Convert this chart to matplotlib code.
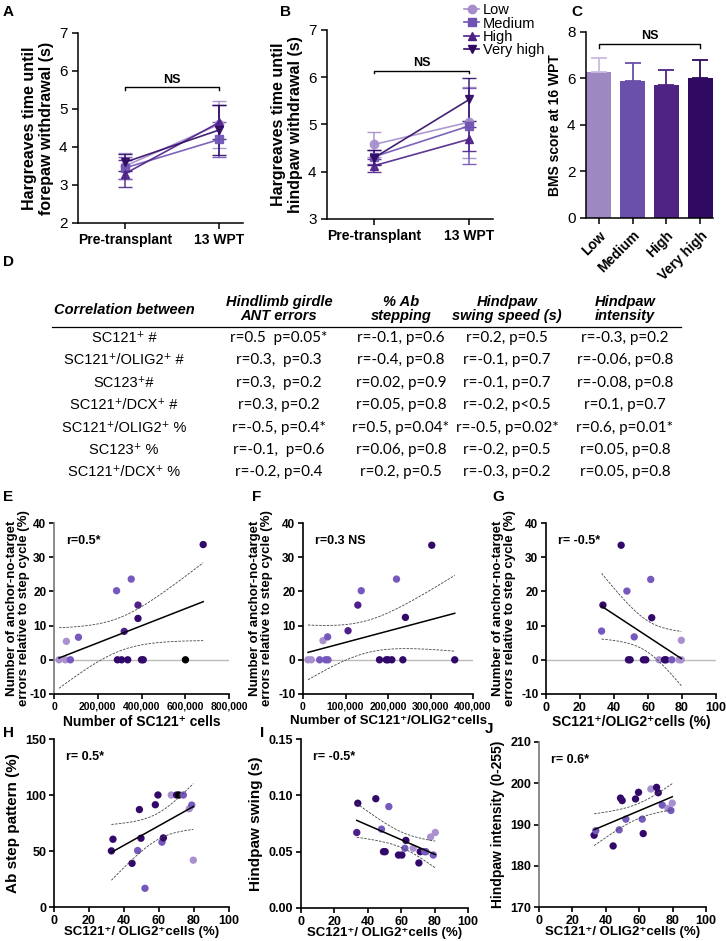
import numpy as np
import matplotlib
matplotlib.use('Agg')
import matplotlib.pyplot as plt
from matplotlib.lines import Line2D

plt.rcParams['font.family'] = ['Liberation Sans', 'DejaVu Sans']

W, H = 726, 941

# ---- data ----
groups = ['Low', 'Medium', 'High', 'Very high']
group_colors = ['#a58ecb', '#6f53b3', '#4c2188', '#2e0a62']
markers = ['o', 's', '^', 'v']
time_labels = ['Pre-transplant', '13 WPT']

# A: Hargreaves forepaw (mean, sem) per group, [pre, 13 WPT]
fore_mean = [[3.50, 4.60], [3.45, 4.20], [3.30, 4.65], [3.60, 4.45]]
fore_err = [[0.35, 0.62], [0.30, 0.45], [0.35, 0.45], [0.22, 0.65]]
# B: Hargreaves hindpaw
hind_mean = [[4.58, 5.05], [4.32, 4.97], [4.13, 4.69], [4.30, 5.53]]
hind_err = [[0.26, 0.75], [0.15, 0.80], [0.13, 0.25], [0.15, 0.45]]
# C: BMS score at 16 WPT
bms = [6.3, 5.9, 5.7, 6.0]
bms_err = [0.6, 0.75, 0.65, 0.8]
bar_colors = ['#9e88c1', '#6a4fab', '#4f2383', '#2f0a60']

# D: correlation table
tbl_header = ['Correlation between', 'Hindlimb girdle\nANT errors', '% Ab\nstepping',
              'Hindpaw\nswing speed (s)', 'Hindpaw\nintensity']
tbl_rows = ['SC121⁺ #', 'SC121⁺/OLIG2⁺ #', 'SC123⁺#', 'SC121⁺/DCX⁺ #',
            'SC121⁺/OLIG2⁺ %', 'SC123⁺ %', 'SC121⁺/DCX⁺ %']
col_ant = ['r=0.5  p=0.05*', 'r=0.3,  p=0.3', 'r=0.3,  p=0.2', 'r=0.3, p=0.2',
           'r=-0.5, p=0.4*', 'r=-0.1,  p=0.6', 'r=-0.2, p=0.4']
col_ab = ['r=-0.1, p=0.6', 'r=-0.4, p=0.8', 'r=0.02, p=0.9', 'r=0.05, p=0.8',
          'r=0.5, p=0.04*', 'r=0.06, p=0.8', 'r=0.2, p=0.5']
col_swing = ['r=0.2, p=0.5', 'r=-0.1, p=0.7', 'r=-0.1, p=0.7', 'r=-0.2, p<0.5',
             'r=-0.5, p=0.02*', 'r=-0.2, p=0.5', 'r=-0.3, p=0.2']
col_int = ['r=-0.3, p=0.2', 'r=-0.06, p=0.8', 'r=-0.08, p=0.8', 'r=0.1, p=0.7',
           'r=0.6, p=0.01*', 'r=0.05, p=0.8', 'r=0.05, p=0.8']

pt_colors = {'L': '#a991d0', 'M': '#7659bd', 'H': '#4f1f8c', 'V': '#32096a', 'K': '#000000'}

# E: errors vs number of SC121+ cells
e_x = [23000, 52000, 75000, 290000, 309000, 337000, 400000, 408000, 601000,
       56600, 111700, 286000, 353000, 384000, 384000, 321000, 682000]
e_y = [0, 0, 0, 0, 0, 0, 0, 0, 0, 5.4, 6.6, 20.2, 23.6, 16.0, 12.1, 8.3, 33.7]
e_c = ['L', 'L', 'M', 'V', 'V', 'V', 'V', 'V', 'K', 'L', 'M', 'M', 'M', 'H', 'V', 'H', 'V']
# F: errors vs number of SC121+/OLIG2+ cells
f_x = [11800, 19600, 39200, 53300, 58800, 180000, 196000, 200000, 209000, 235000, 357000,
       47000, 58000, 106000, 129000, 137000, 220000, 241000, 303000]
f_y = [0] * 11 + [5.6, 6.7, 8.5, 16.0, 20.2, 23.6, 12.4, 33.5]
f_c = ['L', 'L', 'M', 'M', 'M', 'V', 'V', 'V', 'V', 'V', 'V',
       'L', 'M', 'H', 'H', 'M', 'M', 'V', 'V']
# G: errors vs % SC121+/OLIG2+
g_x = [48.5, 49.5, 57.3, 58.7, 66.5, 69.7, 70.6, 74.0, 78.3, 79.5,
       44.2, 33.5, 32.7, 47.6, 61.6, 62.2, 51.9, 79.6]
g_y = [0] * 10 + [33.5, 16.0, 8.4, 20.1, 23.5, 12.3, 6.7, 5.7]
g_c = ['V', 'V', 'V', 'V', 'L', 'V', 'V', 'M', 'L', 'L', 'V', 'V', 'M', 'M', 'M', 'V', 'M', 'L']
# H: Ab step pattern
h_x = [32.8, 33.7, 44.6, 47.8, 48.8, 49.7, 52.0, 57.9, 59.4, 61.7, 62.5, 67.0, 70.1, 71.4,
       73.9, 77.3, 78.7, 79.6]
h_y = [50.1, 60.5, 39.0, 50.4, 87.0, 61.4, 16.7, 91.3, 100, 57.9, 61.7, 100, 100, 100,
       100, 87.7, 91.0, 41.8]
h_c = ['V', 'V', 'V', 'M', 'V', 'V', 'M', 'V', 'V', 'M', 'V', 'L', 'V', 'K', 'M', 'L', 'M', 'L']
# I: Hindpaw swing
i_x = [33.4, 34.0, 44.8, 48.2, 49.4, 50.4, 52.6, 58.4, 60.4, 62.8, 62.2, 67.2, 71.4, 70.6,
       74.0, 74.8, 77.6, 80.4, 79.2]
i_y = [0.067, 0.093, 0.097, 0.070, 0.050, 0.050, 0.090, 0.047, 0.047, 0.060, 0.053, 0.053,
       0.050, 0.040, 0.050, 0.050, 0.063, 0.067, 0.047]
i_c = ['H', 'V', 'V', 'M', 'V', 'V', 'M', 'V', 'V', 'V', 'M', 'L', 'V', 'V', 'M', 'M', 'L', 'L', 'M']
# J: Hindpaw intensity
j_x = [33.0, 34.0, 44.4, 48.0, 48.8, 49.8, 52.0, 57.8, 59.6, 61.8, 62.4, 67.0, 70.4, 71.4,
       73.8, 77.2, 79.0, 79.8]
j_y = [187.4, 188.5, 184.8, 188.7, 196.4, 195.8, 191.3, 196.2, 197.8, 191.3, 187.8, 198.6,
       199.0, 197.7, 194.7, 193.9, 193.4, 195.2]
j_c = ['V', 'M', 'V', 'M', 'V', 'V', 'M', 'V', 'V', 'M', 'V', 'L', 'V', 'V', 'M', 'L', 'M', 'L']

fig = plt.figure(figsize=(W / 100, H / 100), dpi=100)


def ax_at(l, t, r, b):
    return fig.add_axes([l / W, 1 - b / H, (r - l) / W, (b - t) / H])


def ftext(x, y, s, **kw):
    fig.text(x / W, 1 - y / H, s, **kw)


def clean(ax, lw=1.1, tl=4):
    for s in ['top', 'right']:
        ax.spines[s].set_visible(False)
    for s in ['left', 'bottom']:
        ax.spines[s].set_linewidth(lw)
    ax.tick_params(width=lw, length=tl)


def bracket(ax, x0, x1, y, h, label):
    ax.plot([x0, x0, x1, x1], [y - h, y, y, y - h], color='k', lw=1)
    ax.text((x0 + x1) / 2, y + h * 0.6, label, ha='center', va='bottom',
            fontsize=9, fontweight='bold')


# ---- A and B ----
def line_panel(ax, means, errs, ylo, ylabel):
    xs = np.arange(2)
    for g in range(4):
        ax.errorbar(xs, means[g], yerr=errs[g], color=group_colors[g], marker=markers[g],
                    ms=6, lw=1.2, capsize=5, elinewidth=1.1, alpha=0.9)
    ax.set_xlim(-0.5, 1.25)
    ax.set_ylim(ylo, 7)
    ax.set_yticks(np.arange(ylo, 8))
    ax.set_xticks(xs)
    ax.set_xticklabels(time_labels, fontweight='bold', fontsize=10)
    ax.tick_params(axis='y', labelsize=11)
    ax.set_ylabel(ylabel, fontweight='bold', fontsize=11.5, linespacing=1.1)
    clean(ax)


axA = ax_at(78, 33, 243, 223)
line_panel(axA, fore_mean, fore_err, 2, 'Hargreaves time until\nforepaw withdrawal (s)')
bracket(axA, 0, 1, 5.57, 0.08, 'NS')

axB = ax_at(327, 30, 493, 219)
line_panel(axB, hind_mean, hind_err, 3, 'Hargreaves time until\nhindpaw withdrawal (s)')
bracket(axB, 0, 1, 6.14, 0.06, 'NS')

handles = [Line2D([], [], color=group_colors[g], marker=markers[g], ms=6, lw=1.2)
           for g in range(4)]
fig.legend(handles, groups, loc='upper left', bbox_to_anchor=(457 / W, 1 + 4 / H),
           frameon=False, handlelength=1.0, labelspacing=-0.05, handletextpad=0.3,
           fontsize=10.5, borderpad=0.0)

# ---- C ----
axC = ax_at(586, 32, 713, 218)
xc = np.arange(4)
axC.bar(xc, bms, width=0.74, color=bar_colors)
for k in range(4):
    ecol = '#c9bbe2' if k == 0 else bar_colors[k]
    axC.errorbar(xc[k], bms[k], yerr=[[0], [bms_err[k]]], color=ecol, capsize=6,
                 elinewidth=1.3, capthick=1.3, fmt='none')
axC.set_xlim(-0.37, 3.37)
axC.set_ylim(0, 8)
axC.set_yticks([0, 2, 4, 6, 8])
axC.set_xticks(xc)
axC.set_xticklabels(groups, rotation=45, ha='right', rotation_mode='anchor',
                    fontweight='bold', fontsize=10)
axC.tick_params(axis='y', labelsize=11)
axC.set_ylabel('BMS score at 16 WPT', fontweight='bold', fontsize=10)
clean(axC)
bracket(axC, 0, 3, 7.48, 0.15, 'NS')

# ---- D table ----
col_x = [124, 279, 401, 507, 625]
ftext(col_x[0], 310, tbl_header[0], ha='center', va='center', fontsize=10.5,
      fontweight='bold', style='italic')
for k in range(1, 5):
    ftext(col_x[k], 309, tbl_header[k], ha='center', va='center', fontsize=10.5,
          fontweight='bold', style='italic', linespacing=1.0)
fig.add_artist(Line2D([52 / W, 681 / W], [1 - 327 / H, 1 - 327 / H], color='k', lw=0.9))
row_y = [338, 360, 383, 405, 428, 450, 472]
for r in range(7):
    ftext(col_x[0], row_y[r], tbl_rows[r], ha='center', va='center', fontsize=10.5)
    for k, col in enumerate([col_ant, col_ab, col_swing, col_int], start=1):
        ftext(col_x[k], row_y[r], col[r], ha='center', va='center', fontsize=11,
              family=['Lato', 'DejaVu Sans'])


# ---- scatter panels ----
def fit_band(ax, x, y):
    x = np.asarray(x, float)
    y = np.asarray(y, float)
    b, a = np.polyfit(x, y, 1)
    xs = np.linspace(x.min(), x.max(), 100)
    yh = a + b * xs
    s = np.sqrt(np.sum((y - (a + b * x)) ** 2) / (len(x) - 2))
    se = s * np.sqrt(1 / len(x) + (xs - x.mean()) ** 2 / np.sum((x - x.mean()) ** 2))
    ax.plot(xs, yh, color='k', lw=1.1, zorder=3)
    for sign in (1, -1):
        ax.plot(xs, yh + sign * 2.11 * se, color='#444444', lw=0.6, ls=(0, (3, 1.5)), zorder=3)


def scatter_panel(ax, x, y, c, xlim, xticks, ylim, yticks, xlabel, ylabel, note,
                  zero_line=False, tick_fs=8, ytick_fs=None, ylabel_fs=10, fmt=None,
                  ylabels=None, xlab_y=-0.12, ylab_x=None, xlabel_fs=10):
    if zero_line:
        ax.axhline(0, color='#bbbbbb', lw=1, zorder=1)
    ax.scatter(x, y, s=28, c=[pt_colors[k] for k in c], edgecolors='none', zorder=2)
    fit_band(ax, x, y)
    ax.set_xlim(*xlim)
    ax.set_ylim(*ylim)
    ax.set_xticks(xticks)
    ax.set_yticks(yticks)
    ax.set_xticklabels([fmt(v) for v in xticks] if fmt else [f'{v:g}' for v in xticks],
                       fontweight='bold', fontsize=tick_fs)
    ax.set_yticklabels(ylabels if ylabels else [f'{v:g}' for v in yticks],
                       fontweight='bold', fontsize=ytick_fs or tick_fs)
    clean(ax, 1.2, 3.5)
    ax.tick_params(pad=2)
    ax.set_xlabel(xlabel, fontweight='bold', fontsize=xlabel_fs)
    ax.xaxis.set_label_coords(0.5, xlab_y)
    ax.set_ylabel(ylabel, fontweight='bold', fontsize=ylabel_fs, linespacing=1.0)
    if ylab_x is not None:
        ax.yaxis.set_label_coords(ylab_x, 0.5)
    ax.text(0.07, 0.93, note, transform=ax.transAxes, fontweight='bold', fontsize=9,
            va='top')


err_label = 'Number of anchor-no-target\nerrors relative to step cycle (%)'
axE = ax_at(54, 523, 229, 694)
scatter_panel(axE, e_x, e_y, e_c, (0, 800000), np.arange(0, 800001, 200000), (-10, 40),
              np.arange(-10, 41, 10), 'Number of SC121⁺ cells', err_label, 'r=0.5*',
              zero_line=True, tick_fs=7.5, ytick_fs=8.5, ylabel_fs=9.5,
              fmt=lambda v: f'{v:,}', xlab_y=-0.125, ylab_x=-0.135)
axE.spines['left'].set_color('#777777')

axF = ax_at(303, 523, 473, 694)
scatter_panel(axF, f_x, f_y, f_c, (0, 400000), np.arange(0, 400001, 100000), (-10, 40),
              np.arange(-10, 41, 10), 'Number of SC121⁺/OLIG2⁺cells', err_label, 'r=0.3 NS',
              zero_line=True, tick_fs=7.5, ytick_fs=8.5, ylabel_fs=9.5,
              fmt=lambda v: f'{v:,}', xlab_y=-0.125, xlabel_fs=9.5)

axG = ax_at(546, 523, 716, 694)
scatter_panel(axG, g_x, g_y, g_c, (0, 100), np.arange(0, 101, 20), (-10, 40),
              np.arange(-10, 41, 10), 'SC121⁺/OLIG2⁺cells (%)', err_label, 'r= -0.5*',
              zero_line=True, tick_fs=9, ytick_fs=8.5, ylabel_fs=9.5, xlab_y=-0.125)

pct_label = 'SC121⁺/ OLIG2⁺cells (%)'
axH = ax_at(54, 739, 229, 907)
scatter_panel(axH, h_x, h_y, h_c, (0, 100), np.arange(0, 101, 20), (0, 150),
              [0, 50, 100, 150], pct_label, 'Ab step pattern (%)', 'r= 0.5*',
              tick_fs=9, ylabel_fs=11, xlab_y=-0.115, xlabel_fs=9.5)

axI = ax_at(301, 739, 468, 908)
scatter_panel(axI, i_x, i_y, i_c, (0, 100), np.arange(0, 101, 20), (0, 0.15),
              [0, 0.05, 0.10, 0.15], pct_label, 'Hindpaw swing (s)', 'r= -0.5*',
              tick_fs=9, ylabel_fs=11, ylabels=['0.00', '0.05', '0.10', '0.15'],
              xlab_y=-0.115, xlabel_fs=9.5)

axJ = ax_at(539, 742, 706, 907)
scatter_panel(axJ, j_x, j_y, j_c, (0, 100), np.arange(0, 101, 20), (170, 210),
              np.arange(170, 211, 10), pct_label, 'Hindpaw intensity (0-255)', 'r= 0.6*',
              tick_fs=9, ylabel_fs=10, xlab_y=-0.117, xlabel_fs=9.5)
axJ.spines['left'].set_color('#777777')

# panel letters
for lab, (x, y) in {'A': (3, 12), 'B': (280, 12), 'C': (571, 12), 'D': (3, 262),
                    'E': (3, 497), 'F': (252, 497), 'G': (492, 497), 'H': (3, 733),
                    'I': (260, 733), 'J': (485, 729)}.items():
    ftext(x, y, lab, fontsize=11, fontweight='bold', va='center', ha='left')

fig.savefig('out.png', dpi=100)
